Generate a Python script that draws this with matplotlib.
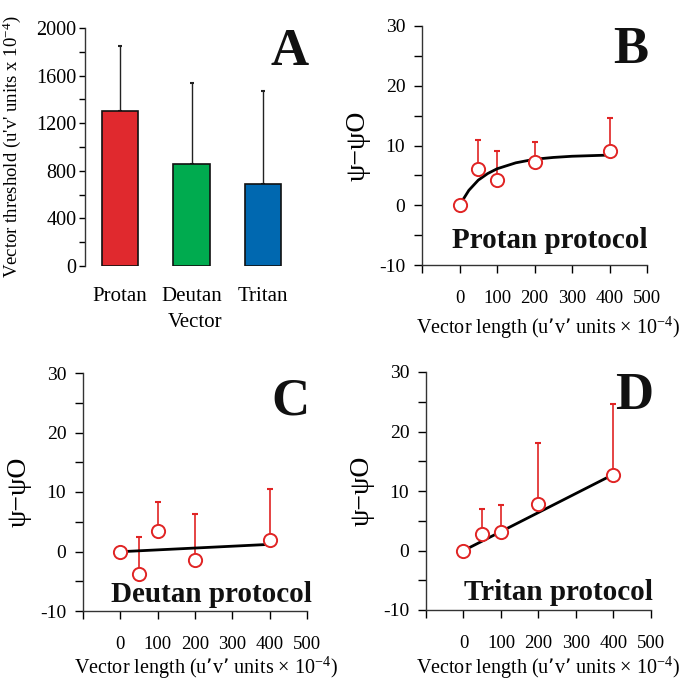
import matplotlib
matplotlib.use('Agg')
import matplotlib.pyplot as plt
from matplotlib.ticker import MultipleLocator

plt.rcParams['font.family'] = ['Liberation Serif', 'DejaVu Serif']
plt.rcParams['mathtext.default'] = 'regular'
plt.rcParams['axes.unicode_minus'] = False

# ── Data ──────────────────────────────────────────────────────────────────────
vectors = ['Protan', 'Deutan', 'Tritan']
threshold_mean = [1300, 860, 685]
threshold_upper = [1850, 1540, 1470]
bar_colors = ['#E0292E', '#00AB4F', '#0068B0']

vec_len = [0, 50, 100, 200, 400]

protan_y = [0, 6.0, 4.3, 7.2, 9.0]
protan_err_top = [0, 11.0, 9.0, 10.6, 14.6]
protan_fit_x = [8, 25, 50, 75, 100, 150, 200, 250, 300, 350, 400]
protan_fit_y = [0.8, 2.5, 4.2, 5.3, 6.1, 7.1, 7.7, 8.0, 8.2, 8.3, 8.4]

deutan_y = [0, -3.8, 3.5, -1.4, 1.9]
deutan_err_top = [0, 2.4, 8.3, 6.3, 10.5]
deutan_fit_x = [12, 400]
deutan_fit_y = [0.0, 1.2]

tritan_y = [0, 2.8, 3.1, 7.8, 12.7]
tritan_err_top = [0, 7.0, 7.7, 18.0, 24.6]
tritan_fit_x = [10, 400]
tritan_fit_y = [0.3, 12.8]

x_ticks = [-100, 0, 100, 200, 300, 400, 500]
x_ticklabels = ['', '0', '100', '200', '300', '400', '500']
y_ticks = [-10, 0, 10, 20, 30]

RED = '#E02424'

# ── Figure ────────────────────────────────────────────────────────────────────
W, H = 685, 681
fig = plt.figure(figsize=(W / 100, H / 100), dpi=100)
fig.patch.set_facecolor('white')


def box(x0, y0, x1, y1):
    # pixel box (top-left origin) -> figure fraction rect
    return [x0 / W, 1 - y1 / H, (x1 - x0) / W, (y1 - y0) / H]


def letter(ax, s, x, y):
    ax.text(x, y, s, transform=ax.transAxes, ha='right', va='top',
            fontsize=38, fontweight='bold', color='#111111')


# ═════════════════════════════════ PANEL A ═══════════════════════════════════
axA = fig.add_axes(box(85, 28, 306, 266))
xs = range(len(vectors))
axA.bar(xs, threshold_mean, width=0.51, color=bar_colors,
        edgecolor='#111111', linewidth=1.2, zorder=3)
for i in xs:
    axA.errorbar(i, threshold_mean[i],
                 yerr=[[0], [threshold_upper[i] - threshold_mean[i]]],
                 fmt='none', ecolor='#222222', elinewidth=1.0, capsize=1.5,
                 capthick=1.5, zorder=2)
axA.set_xlim(-0.49, 2.6)
axA.set_ylim(0, 2000)
axA.set_xticks(list(xs))
axA.set_xticklabels(vectors, fontsize=15)
axA.set_yticks(range(0, 2001, 400))
axA.yaxis.set_minor_locator(MultipleLocator(200))
axA.tick_params(axis='x', length=0, pad=15)
axA.tick_params(axis='y', which='both', direction='out', length=4.5,
                width=1, labelsize=14.5, pad=1.5)
for s in ['top', 'right', 'bottom']:
    axA.spines[s].set_visible(False)
axA.spines['left'].set_linewidth(1.0)
axA.spines['left'].set_color('#333333')
axA.set_xlabel('Vector', fontsize=15, labelpad=5)
fig.text(12 / W, 1 - 147 / H, "Vector threshold (u'v' units x 10$^{-4}$)",
         rotation=90, ha='center', va='center', fontsize=13.5)
letter(axA, 'A', 1.01, 1.0)


# ═════════════════════════════ PANELS B, C, D ════════════════════════════════
def psi_panel(rect, y, err_top, fit_x, fit_y, lab, title, lx, ly, tx, ty,
              xl_x, xl_y):
    ax = fig.add_axes(box(*rect))
    ax.plot(fit_x, fit_y, color='black', lw=2.0, zorder=3)
    for xi, yi, ti in zip(vec_len, y, err_top):
        if ti > yi:
            ax.errorbar(xi, yi, yerr=[[0], [ti - yi]], fmt='none',
                        ecolor=RED, elinewidth=1.2, capsize=2,
                        capthick=1.5, zorder=2)
    ax.plot(vec_len, y, 'o', ms=9.5, mfc='white', mec=RED, mew=1.4,
            zorder=4, clip_on=False)
    ax.set_xlim(-100, 500)
    ax.set_ylim(-10, 30)
    ax.set_xticks(x_ticks)
    ax.set_xticklabels(x_ticklabels)
    ax.set_yticks(y_ticks)
    ax.yaxis.set_minor_locator(MultipleLocator(5))
    ax.tick_params(axis='x', direction='out', length=6, width=1,
                   labelsize=13.5, pad=12)
    ax.tick_params(axis='y', which='both', direction='out', length=6,
                   width=1, labelsize=14, pad=6)
    for s in ['top', 'right']:
        ax.spines[s].set_visible(False)
    for s in ['left', 'bottom']:
        ax.spines[s].set_linewidth(1.0)
        ax.spines[s].set_color('#333333')
    ax.text(xl_x, xl_y, 'Vector length (u\u2019v\u2019 units \u00d7 10$^{-4}$)',
            transform=ax.transAxes, ha='center', va='center', fontsize=14.5)
    ax.set_ylabel('\u03c8\u2212\u03c8O', fontsize=20, labelpad=6)
    ax.text(tx, ty, title, transform=ax.transAxes, ha='right',
            va='baseline', fontsize=21, fontweight='bold', color='#111111')
    letter(ax, lab, lx, ly)
    return ax


axB = psi_panel((422, 26, 647, 265), protan_y, protan_err_top,
                protan_fit_x, protan_fit_y, 'B', 'Protan protocol',
                1.005, 1.0, 1.004, 0.071, 0.56, -0.265)
axC = psi_panel((83, 373, 307, 611), deutan_y, deutan_err_top,
                deutan_fit_x, deutan_fit_y, 'C', 'Deutan protocol',
                1.01, 0.98, 1.02, 0.038, 0.55, -0.24)
axD = psi_panel((426, 372, 651, 610), tritan_y, tritan_err_top,
                tritan_fit_x, tritan_fit_y, 'D', 'Tritan protocol',
                1.01, 1.0, 1.01, 0.042, 0.54, -0.244)

fig.savefig('out.png', dpi=100, facecolor='white')
